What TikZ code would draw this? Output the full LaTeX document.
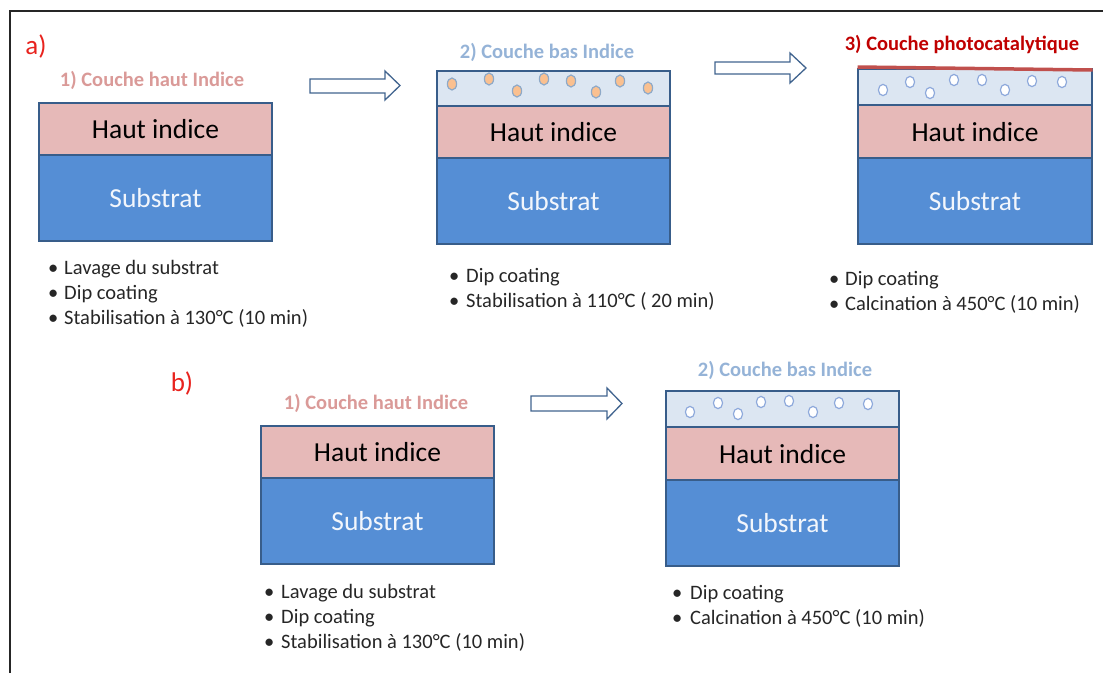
\documentclass[tikz,border=0pt]{standalone}
\usepackage{fontspec}
\setmainfont{Carlito}
\definecolor{pinkfill}{HTML}{E6B9B8}
\definecolor{bluefill}{HTML}{558ED5}
\definecolor{layerline}{HTML}{385D8A}
\definecolor{lightfill}{HTML}{DCE6F2}
\definecolor{labelone}{HTML}{DA9A98}
\definecolor{labeltwo}{HTML}{95B3D7}
\definecolor{labelthree}{HTML}{C00000}
\definecolor{partred}{HTML}{E8231E}
\definecolor{dotfill}{HTML}{FAC090}
\definecolor{dotline}{HTML}{8EA9C8}
\definecolor{ringline}{HTML}{8EA9DB}
\definecolor{subtext}{HTML}{F2F6FC}
\definecolor{arrowline}{HTML}{41648F}
\definecolor{toplayer}{HTML}{C0504D}
\tikzset{
  layer/.style={draw=layerline, line width=1.3pt},
  bigtext/.style={inner sep=0pt, font=\fontsize{27.5}{32}\selectfont},
  subtxt/.style={bigtext, text=subtext},
  steplabel/.style={inner sep=0pt, font=\fontsize{20.5}{24}\selectfont\bfseries},
  bul/.style={inner sep=0pt, anchor=base west, font=\fontsize{20.5}{24}\selectfont, text=black!85},
  partlabel/.style={inner sep=0pt, font=\fontsize{27}{32}\selectfont, text=partred},
  blockarrow/.style={draw=arrowline, fill=white, line width=1.3pt, line join=miter},
  orangedot/.style={draw=dotline, fill=dotfill, line width=1.2pt},
  ring/.style={draw=ringline, fill=white, line width=1.2pt},
}
\begin{document}
\begin{tikzpicture}[x=1pt,y=-1pt]
\useasboundingbox (0,0) rectangle (1103,673);
% outer frame (top and left edges)
\draw[line width=1.6pt, black!85] (10,673) -- (10,11) -- (1103,11);

% ---------- a) ----------
\node[partlabel] (pa) at (36,46) {a)};

% a1
\draw[layer, fill=pinkfill] (39,103) rectangle (272,155);
\draw[layer, fill=bluefill] (39,155) rectangle (272,241);
\node[steplabel, text=labelone] (la1) at (152,80) {1) Couche haut Indice};
\node[bigtext] (ha1) at (155.5,129) {Haut indice};
\node[subtxt] (sa1) at (155.5,198) {Substrat};
\node[bul] (a1b1) at (48,274) {•};
\node[bul] (a1t1) at (64,274) {Lavage du substrat};
\node[bul] (a1b2) at (48,299) {•};
\node[bul] (a1t2) at (64,299) {Dip coating};
\node[bul] (a1b3) at (48,324) {•};
\node[bul] (a1t3) at (64,324) {Stabilisation à 130°C (10 min)};

% arrow 1
\draw[blockarrow] (310,79) -- (385,79) -- (385,71) -- (400,85.5) -- (385,100) -- (385,93) -- (310,93) -- cycle;

% a2
\draw[layer, fill=lightfill] (437,71) rectangle (670,106);
\draw[layer, fill=pinkfill] (437,106) rectangle (670,158);
\draw[layer, fill=bluefill] (437,158) rectangle (670,244);
\node[steplabel, text=labeltwo] (la2) at (547,52) {2) Couche bas Indice};
\node[bigtext] (ha2) at (553.5,132) {Haut indice};
\node[subtxt] (sa2) at (553.5,201) {Substrat};
\foreach \px/\py in {452/84,489/79,517/91,544/79,571/81,596/92,620/81,648/88}
  \draw[orangedot] (\px,\py) ellipse [x radius=4.6, y radius=6];
\node[bul] (a2b1) at (449,282) {•};
\node[bul] (a2t1) at (466,282) {Dip coating};
\node[bul] (a2b2) at (449,307) {•};
\node[bul] (a2t2) at (466,307) {Stabilisation à 110°C ( 20 min)};

% arrow 2
\draw[blockarrow] (715,62) -- (790,62) -- (790,53) -- (806,68) -- (790,83) -- (790,74) -- (715,74) -- cycle;

% a3
\draw[layer, fill=lightfill] (858,69) rectangle (1092,105);
\draw[layer, fill=pinkfill] (858,105) rectangle (1092,158);
\draw[layer, fill=bluefill] (858,158) rectangle (1092,244);
\draw[toplayer, line width=3.5pt] (857.5,67) -- (1092.5,70);
\node[steplabel, text=labelthree] (la3) at (962,44) {3) Couche photocatalytique};
\node[bigtext] (ha3) at (975,132) {Haut indice};
\node[subtxt] (sa3) at (975,201) {Substrat};
\foreach \px/\py in {883/90,910/82,930/93,954/80,982/80,1005/90,1032/81,1062/82}
  \draw[ring] (\px,\py) ellipse [x radius=4.6, y radius=5.6];
\node[bul] (a3b1) at (829,285) {•};
\node[bul] (a3t1) at (845,285) {Dip coating};
\node[bul] (a3b2) at (829,310) {•};
\node[bul] (a3t2) at (845,310) {Calcination à 450°C (10 min)};

% ---------- b) ----------
\node[partlabel] (pb) at (182,383) {b)};

% b1
\draw[layer, fill=pinkfill] (261,426) rectangle (494,478);
\draw[layer, fill=bluefill] (261,478) rectangle (494,564);
\node[steplabel, text=labelone] (lb1) at (376,403) {1) Couche haut Indice};
\node[bigtext] (hb1) at (377.5,452) {Haut indice};
\node[subtxt] (sb1) at (377.5,521) {Substrat};
\node[bul] (b1b1) at (264,598) {•};
\node[bul] (b1t1) at (281,598) {Lavage du substrat};
\node[bul] (b1b2) at (264,623) {•};
\node[bul] (b1t2) at (281,623) {Dip coating};
\node[bul] (b1b3) at (264,648) {•};
\node[bul] (b1t3) at (281,648) {Stabilisation à 130°C (10 min)};

% arrow b
\draw[blockarrow] (531,396) -- (607,396) -- (607,388) -- (622,403.5) -- (607,419) -- (607,411) -- (531,411) -- cycle;

% b2
\draw[layer, fill=lightfill] (666,391) rectangle (899,427);
\draw[layer, fill=pinkfill] (666,427) rectangle (899,480);
\draw[layer, fill=bluefill] (666,480) rectangle (899,566);
\node[steplabel, text=labeltwo] (lb2) at (785,370) {2) Couche bas Indice};
\node[bigtext] (hb2) at (782.5,454) {Haut indice};
\node[subtxt] (sb2) at (782.5,523) {Substrat};
\foreach \px/\py in {690/412,718/403,738/414,761/402,789/401,813/412,839/403,868/404}
  \draw[ring] (\px,\py) ellipse [x radius=4.6, y radius=5.6];
\node[bul] (b2b1) at (672,599) {•};
\node[bul] (b2t1) at (690,599) {Dip coating};
\node[bul] (b2b2) at (672,624) {•};
\node[bul] (b2t2) at (690,624) {Calcination à 450°C (10 min)};
\end{tikzpicture}
\end{document}
